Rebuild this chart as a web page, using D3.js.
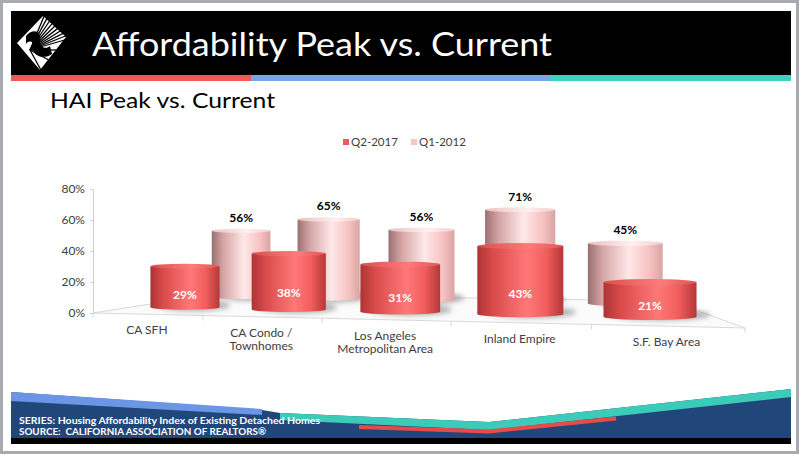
<!DOCTYPE html>
<html>
<head>
<meta charset="utf-8">
<script src="https://cdnjs.cloudflare.com/ajax/libs/d3/7.8.5/d3.min.js"></script>
<style>
body { margin: 0; background: #a7abb0; }
text { font-family: "Lato", "DejaVu Sans", sans-serif; }
</style>
</head>
<body>
<div id="chart-area"></div>
<script>
/*
*    HAI peak vs current - 3d cylinders
*/

var categories = ["CA SFH", "CA Condo /\nTownhomes", "Los Angeles\nMetropolitan Area", "Inland Empire", "S.F. Bay Area"];
var seriesNames = ["Q2-2017", "Q1-2012"];
var q2_2017 = [29, 38, 31, 43, 21];
var q1_2012 = [56, 65, 56, 71, 45];
var yTicks = [0, 20, 40, 60, 80];

var width = 799;
var height = 454;

var svg = d3.select("#chart-area").append("svg")
	.attr("width", width)
	.attr("height", height);

var defs = svg.append("defs");

// slide background
svg.append("rect").attr("x", 0).attr("y", 0).attr("width", width).attr("height", height).attr("fill", "#a7abb0");
svg.append("rect").attr("x", 3).attr("y", 3).attr("width", 793).attr("height", 448).attr("fill", "#ffffff");

// header
svg.append("rect").attr("x", 11).attr("y", 11).attr("width", 780).attr("height", 65).attr("fill", "#000000");
svg.append("rect").attr("x", 11).attr("y", 75).attr("width", 240).attr("height", 6).attr("fill", "#f05a5a");
svg.append("rect").attr("x", 251).attr("y", 75).attr("width", 299).attr("height", 6).attr("fill", "#7ba3e8");
svg.append("rect").attr("x", 550).attr("y", 75).attr("width", 241).attr("height", 6).attr("fill", "#3fd0c0");

// logo
var logo = svg.append("g");
logo.append("polygon").attr("points", "17,43 43,16 66,37 40,70").attr("fill", "#ffffff");
d3.range(9).forEach((i)=>{
	var t = i / 8;
	logo.append("line")
		.attr("x1", 30).attr("y1", 50)
		.attr("x2", 43 + (66 - 43) * t + 2).attr("y2", 16 + (37 - 16) * t - 2)
		.attr("stroke", "#000").attr("stroke-width", 1.3);
});
d3.range(4).forEach((i)=>{
	var t = i / 3;
	logo.append("line")
		.attr("x1", 30).attr("y1", 50)
		.attr("x2", 66 + (40 - 66) * t + 2).attr("y2", 37 + (70 - 37) * t + 2)
		.attr("stroke", "#000").attr("stroke-width", 1.3);
});
logo.append("path")
	.attr("d", "M26,36 C33,28 42,31 40,40 C38,47 46,50 50,46 L52,54 C44,60 32,56 33,47 C34,41 29,40 26,44 Z")
	.attr("fill", "#000");

svg.append("text")
	.attr("x", 92).attr("y", 56)
	.attr("font-size", "32px")
	.attr("fill", "#ffffff")
	.attr("textLength", 460)
	.attr("lengthAdjust", "spacingAndGlyphs")
	.text("Affordability Peak vs. Current");

svg.append("text")
	.attr("x", 50).attr("y", 108)
	.attr("font-size", "21px")
	.attr("fill", "#000000")
	.attr("textLength", 225)
	.attr("lengthAdjust", "spacingAndGlyphs")
	.text("HAI Peak vs. Current");

// legend
var legendColors = ["#f05a5a", "#f9c4c4"];
var legendX = [343, 411];
seriesNames.forEach((s, i)=>{
	svg.append("rect").attr("x", legendX[i]).attr("y", 139).attr("width", 6).attr("height", 6).attr("fill", legendColors[i]);
	svg.append("text").attr("x", legendX[i] + 8).attr("y", 146)
		.attr("font-size", "11.5px").attr("fill", "#404040").text(s);
});

// ---- 3d projection ----
var x0 = 93, y0 = 313;
var P = {a: 102.36, c: -0.03764, d: -9.35, e: 0.44, vx: 520, vy: 246};

var yScale = d3.scaleLinear().domain([0, 80]).range([y0, 189]);

// categories along world X (0..5), bars take 0.69 of each slot
var xBand = d3.scaleBand()
	.domain(categories)
	.range([0, categories.length])
	.paddingInner(0.31)
	.paddingOuter(0.155);

// series rows along depth (0 front .. 1 back)
var zRow = d3.scalePoint()
	.domain(seriesNames)
	.range([0, 1])
	.padding(0.5);

function project(X, Z, v) {
	var E = P.e * Z;
	var w = 1 + P.c * X + E;
	return [
		(x0 + P.a * X + P.vx * E) / w,
		(y0 + P.d * X + P.vy * E - (y0 - yScale(v))) / w
	];
}

var chart = svg.append("g");

// floor
var zBack = 0.9;
var floorPts = [project(0, 0, 0), project(5, 0, 0), project(5, zBack, 0), project(0, zBack, 0)];
chart.append("polygon")
	.attr("points", floorPts.map((p)=>p.join(",")).join(" "))
	.attr("fill", "#fbfbfb")
	.attr("stroke", "#cfcfcf")
	.attr("stroke-width", 0.8);

// category ticks on front edge
d3.range(categories.length + 1).forEach((i)=>{
	var p = project(i, 0, 0);
	chart.append("line")
		.attr("x1", p[0]).attr("y1", p[1])
		.attr("x2", p[0]).attr("y2", p[1] + 5)
		.attr("stroke", "#cfcfcf").attr("stroke-width", 0.8);
});

// y axis
var leftAxis = d3.axisLeft(yScale)
	.tickValues(yTicks)
	.tickSize(3)
	.tickSizeOuter(0)
	.tickFormat((d)=>d + "%");

var yAxisG = chart.append("g")
	.attr("class", "left axis")
	.attr("transform", "translate(" + x0 + ",0)")
	.call(leftAxis);
yAxisG.select(".domain").attr("stroke", "#cfcfcf");
yAxisG.selectAll(".tick line").attr("stroke", "#cfcfcf");
yAxisG.selectAll(".tick text")
	.attr("x", -8)
	.attr("font-size", "12px")
	.attr("font-family", "Lato, DejaVu Sans, sans-serif")
	.attr("fill", "#404040");

// category labels
categories.forEach((c)=>{
	var p = project(xBand(c) + xBand.bandwidth() / 2, 0, 0);
	var lines = c.split("\n");
	var t = chart.append("text")
		.attr("text-anchor", "middle")
		.attr("font-size", "12px")
		.attr("fill", "#404040");
	lines.forEach((l, j)=>{
		t.append("tspan").attr("x", p[0]).attr("y", p[1] + 20 + j * 13.5).text(l);
	});
});

// gradients
function addGrad(id, stops) {
	var g = defs.append("linearGradient").attr("id", id).attr("x1", "0%").attr("x2", "100%").attr("y1", "0%").attr("y2", "0%");
	stops.forEach((s)=>{
		g.append("stop").attr("offset", s[0]).attr("stop-color", s[1]);
	});
}
addGrad("redBody", [["0%", "#ad3434"], ["18%", "#d94a4a"], ["58%", "#ff7878"], ["80%", "#f25e5e"], ["100%", "#b53838"]]);
addGrad("redTop", [["0%", "#d85050"], ["60%", "#ff7b7b"], ["100%", "#e05656"]]);
addGrad("pinkBody", [["0%", "#9a7070"], ["20%", "#d6a6a6"], ["55%", "#ffe8e8"], ["82%", "#f7c2c2"], ["100%", "#d9a4a4"]]);
addGrad("pinkTop", [["0%", "#e9c0c0"], ["60%", "#fff0f0"], ["100%", "#f2cccc"]]);

defs.append("filter").attr("id", "blur")
	.attr("x", "-50%").attr("y", "-50%").attr("width", "200%").attr("height", "200%")
	.append("feGaussianBlur").attr("stdDeviation", 2.5);

var series = [
	{name: seriesNames[1], values: q1_2012, body: "url(#pinkBody)", top: "url(#pinkTop)", labelColor: "#000000", front: false},
	{name: seriesNames[0], values: q2_2017, body: "url(#redBody)", top: "url(#redTop)", labelColor: "#ffffff", front: true}
];

series.forEach((s)=>{
	var Z = zRow(s.name);
	var cyl = categories.map((c, i)=>{
		var xl = xBand(c), xr = xl + xBand.bandwidth(), xm = xl + xBand.bandwidth() / 2;
		var pl = project(xl, Z, 0), pr = project(xr, Z, 0), pm = project(xm, Z, 0);
		var pt = project(xm, Z, s.values[i]);
		var rx = (pr[0] - pl[0]) / 2;
		return {cx: (pr[0] + pl[0]) / 2, yb: pm[1], yt: pt[1], rx: rx, ry: rx * 0.07, v: s.values[i]};
	});

	var g = chart.append("g");

	// shadows on the floor
	g.selectAll("ellipse.shadow").data(cyl).enter()
		.append("ellipse")
		.attr("class", "shadow")
		.attr("cx", (d)=>d.cx + d.rx * 0.25)
		.attr("cy", (d)=>d.yb - 2)
		.attr("rx", (d)=>d.rx * 1.05)
		.attr("ry", 6)
		.attr("fill", "#7a7a7a")
		.attr("opacity", 0.55)
		.attr("filter", "url(#blur)");

	g.selectAll("path.body").data(cyl).enter()
		.append("path")
		.attr("class", "body")
		.attr("d", (d)=>{
			return "M" + (d.cx - d.rx) + "," + d.yt +
				" L" + (d.cx - d.rx) + "," + d.yb +
				" A" + d.rx + "," + d.ry + " 0 0 0 " + (d.cx + d.rx) + "," + d.yb +
				" L" + (d.cx + d.rx) + "," + d.yt + " Z";
		})
		.attr("fill", s.body);

	g.selectAll("ellipse.top").data(cyl).enter()
		.append("ellipse")
		.attr("class", "top")
		.attr("cx", (d)=>d.cx)
		.attr("cy", (d)=>d.yt)
		.attr("rx", (d)=>d.rx)
		.attr("ry", (d)=>d.ry)
		.attr("fill", s.top);

	g.selectAll("text.val").data(cyl).enter()
		.append("text")
		.attr("class", "val")
		.attr("x", (d)=>d.cx)
		.attr("y", (d)=>{
			if (s.front) return d.yb - 0.3 * (d.yb - d.yt) + 4;
			return d.yt - 9;
		})
		.attr("text-anchor", "middle")
		.attr("font-size", "12px")
		.attr("font-weight", "bold")
		.attr("fill", s.labelColor)
		.text((d)=>d.v + "%");
});

// footer
var foot = svg.append("g");
foot.append("polygon").attr("points", "11,392 262,410 280,413 489,422 791,389 791,438 11,438").attr("fill", "#21467a");
foot.append("polygon").attr("points", "11,392 262,409 262,415 11,401").attr("fill", "#6b96e6");
foot.append("polygon").attr("points", "280,413 489,422 791,389 791,397 489,430 280,420").attr("fill", "#3ccbb9");
foot.append("polyline").attr("points", "359,427 489,431.5 616,418.5").attr("fill", "none").attr("stroke", "#e84a4a").attr("stroke-width", 4);
foot.append("rect").attr("x", 11).attr("y", 438).attr("width", 780).attr("height", 6).attr("fill", "#000000");

foot.append("text").attr("x", 19).attr("y", 424)
	.attr("font-size", "10px").attr("font-weight", "bold").attr("fill", "#ffffff")
	.attr("textLength", 301).attr("lengthAdjust", "spacingAndGlyphs")
	.text("SERIES: Housing Affordability Index of Existing Detached Homes");
foot.append("text").attr("x", 19).attr("y", 435)
	.attr("font-size", "10px").attr("font-weight", "bold").attr("fill", "#ffffff")
	.attr("textLength", 247).attr("lengthAdjust", "spacingAndGlyphs")
	.attr("xml:space", "preserve")
	.text("SOURCE:  CALIFORNIA ASSOCIATION OF REALTORS®");
</script>
</body>
</html>
